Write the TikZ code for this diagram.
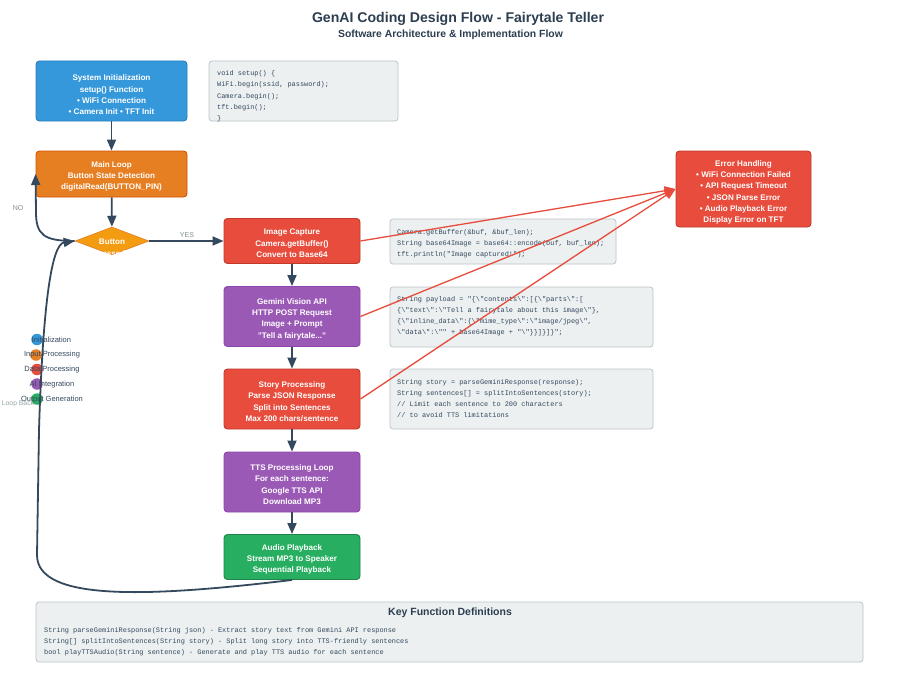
\documentclass[tikz,border=0pt]{standalone}
\usepackage{fontspec}
\setmainfont{Liberation Sans}
\setmonofont{Liberation Mono}
\usetikzlibrary{arrows.meta,shapes.geometric}
\definecolor{cblue}{HTML}{3498DB}
\definecolor{cblueb}{HTML}{2980B9}
\definecolor{corange}{HTML}{E67E22}
\definecolor{coranb}{HTML}{D35400}
\definecolor{cyellow}{HTML}{F39C12}
\definecolor{cred}{HTML}{E74C3C}
\definecolor{credb}{HTML}{C0392B}
\definecolor{cpurple}{HTML}{9B59B6}
\definecolor{cpurpb}{HTML}{8E44AD}
\definecolor{cgreen}{HTML}{27AE60}
\definecolor{cgreenb}{HTML}{1E8449}
\definecolor{ccode}{HTML}{ECF0F1}
\definecolor{ccodeb}{HTML}{BDC3C7}
\definecolor{carrow}{HTML}{34495E}
\definecolor{ctitle}{HTML}{2C3E50}
\definecolor{cgray}{HTML}{7F8C8D}
\definecolor{clgray}{HTML}{95A5A6}
\tikzset{
  procbox/.style={rounded corners=3.5pt, line width=0.9pt, inner sep=0pt},
  proctxt/.style={text=white, align=center, inner sep=0pt,
    font=\fontsize{8.1}{11.3}\selectfont\bfseries},
  codebox/.style={rounded corners=3pt, fill=ccode, draw=ccodeb, line width=0.8pt, inner sep=0pt},
  codetxt/.style={anchor=base west, inner sep=0pt, text=carrow, font=\ttfamily\fontsize{6.9}{11.3}\selectfont},
  flow/.style={draw=carrow, line width=1.8pt, -{Triangle[length=11pt,width=9pt]}},
  errflow/.style={draw=cred, line width=1.3pt, -{Triangle[length=11pt,width=9pt]}},
  smalllbl/.style={inner sep=0pt, text=cgray, font=\fontsize{7}{8}\selectfont},
  legtxt/.style={inner sep=0pt, text=carrow, font=\fontsize{7.5}{9}\selectfont},
  legdot/.style={circle, inner sep=0pt, minimum size=11.5pt},
}
\begin{document}
\begin{tikzpicture}[x=1pt,y=-1pt]
\useasboundingbox (0,0) rectangle (917,674);
\fill[white] (0,0) rectangle (917,674);

% titles
\node[inner sep=0pt, text=ctitle, font=\fontsize{14.1}{16}\selectfont\bfseries] (title) at (458,19) {GenAI Coding Design Flow - Fairytale Teller};
\node[inner sep=0pt, text=ctitle, font=\fontsize{10.4}{12}\selectfont\bfseries] (subtitle) at (450.5,35) {Software Architecture \& Implementation Flow};

% main boxes
\node[procbox, fill=cblue, draw=cblueb, minimum width=151pt, minimum height=60pt] (init) at (111.5,91) {};
\node[proctxt] (initt) at (111.5,95)
  {System Initialization\\setup() Function\\• WiFi Connection\\• Camera Init • TFT Init};
\node[procbox, fill=corange, draw=coranb, minimum width=151pt, minimum height=46pt] (main) at (111.5,174) {};
\node[proctxt] (maint) at (111.5,176.5)
  {Main Loop\\Button State Detection\\digitalRead(BUTTON\_PIN)};
\node[diamond, fill=cyellow, draw=corange, line width=0.6pt, inner sep=0pt, minimum width=74pt, minimum height=28pt] (dia) at (112,241) {};
\node[inner sep=0pt, text=white, font=\fontsize{8.1}{10}\selectfont\bfseries] (diat1) at (112,242) {Button};
\node[inner sep=0pt, text=white, font=\fontsize{8.1}{10}\selectfont\bfseries] (diat2) at (112,253.5) {Pressed?};

\node[procbox, fill=cred, draw=credb, minimum width=136pt, minimum height=45pt] (img) at (292,241) {};
\node[proctxt] (imgt) at (292,243.5)
  {Image Capture\\Camera.getBuffer()\\Convert to Base64};
\node[procbox, fill=cpurple, draw=cpurpb, minimum width=136pt, minimum height=60pt] (gem) at (292,316.5) {};
\node[proctxt] (gemt) at (292,319)
  {Gemini Vision API\\HTTP POST Request\\Image + Prompt\\"Tell a fairytale..."};
\node[procbox, fill=cred, draw=credb, minimum width=136pt, minimum height=60pt] (story) at (292,399) {};
\node[proctxt] (storyt) at (292,401.5)
  {Story Processing\\Parse JSON Response\\Split into Sentences\\Max 200 chars/sentence};
\node[procbox, fill=cpurple, draw=cpurpb, minimum width=136pt, minimum height=60pt] (tts) at (292,482) {};
\node[proctxt] (ttst) at (292,484.5)
  {TTS Processing Loop\\For each sentence:\\Google TTS API\\Download MP3};
\node[procbox, fill=cgreen, draw=cgreenb, minimum width=136pt, minimum height=45pt] (audio) at (292,557) {};
\node[proctxt] (audiot) at (292,559.5)
  {Audio Playback\\Stream MP3 to Speaker\\Sequential Playback};
\node[procbox, fill=cred, draw=credb, minimum width=135pt, minimum height=76pt] (err) at (743.5,189) {};
\node[proctxt] (errt) at (743.5,192.5)
  {Error Handling\\• WiFi Connection Failed\\• API Request Timeout\\• JSON Parse Error\\• Audio Playback Error\\Display Error on TFT};

% code boxes
\node[codebox, minimum width=189pt, minimum height=60pt] (code1) at (303.5,91) {};
\node[codetxt] (c1a) at (217,75.3) {void setup() \{};
\node[codetxt] (c1b) at (217,86.3) {WiFi.begin(ssid, password);};
\node[codetxt] (c1c) at (217,98.3) {Camera.begin();};
\node[codetxt] (c1d) at (217,109.3) {tft.begin();};
\node[codetxt] (c1e) at (217,120.3) {\}};

\node[codebox, minimum width=226pt, minimum height=45pt] (code2) at (503,241.5) {};
\node[codetxt] (c2a) at (397,234.3) {Camera.getBuffer(\&buf, \&buf\_len);};
\node[codetxt] (c2b) at (397,245.3) {String base64Image = base64::encode(buf, buf\_len);};
\node[codetxt] (c2c) at (397,256.3) {tft.println("Image captured!");};

\node[codebox, minimum width=263pt, minimum height=60pt] (code3) at (521.5,317) {};
\node[codetxt] (c3a) at (397,301.3) {String payload = "\{\textbackslash"contents\textbackslash":[\{\textbackslash"parts\textbackslash":[};
\node[codetxt] (c3b) at (397,312.3) {\{\textbackslash"text\textbackslash":\textbackslash"Tell a fairytale about this image\textbackslash"\},};
\node[codetxt] (c3c) at (397,323.3) {\{\textbackslash"inline\_data\textbackslash":\{\textbackslash"mime\_type\textbackslash":\textbackslash"image/jpeg\textbackslash",};
\node[codetxt] (c3d) at (397,334.3) {\textbackslash"data\textbackslash":\textbackslash"" + base64Image + "\textbackslash"\}\}]\}]\}";};

\node[codebox, minimum width=263pt, minimum height=60pt] (code4) at (521.5,399) {};
\node[codetxt] (c4a) at (397,384.3) {String story = parseGeminiResponse(response);};
\node[codetxt] (c4b) at (397,395.3) {String sentences[] = splitIntoSentences(story);};
\node[codetxt] (c4c) at (397,406.3) {// Limit each sentence to 200 characters};
\node[codetxt] (c4d) at (397,417.3) {// to avoid TTS limitations};

% bottom box
\node[codebox, minimum width=827pt, minimum height=60pt] (defs) at (449.5,632) {};
\node[inner sep=0pt, text=ctitle, font=\fontsize{10.5}{12}\selectfont\bfseries] (defst) at (450,613) {Key Function Definitions};
\node[codetxt] (d1) at (44,632.3) {String parseGeminiResponse(String json) - Extract story text from Gemini API response};
\node[codetxt] (d2) at (44,643.3) {String[] splitIntoSentences(String story) - Split long story into TTS-friendly sentences};
\node[codetxt] (d3) at (44,654.3) {bool playTTSAudio(String sentence) - Generate and play TTS audio for each sentence};

% legend
\node[legdot, fill=cblue] (l1) at (37,339.5) {};
\node[legdot, fill=corange] (l2) at (36,355) {};
\node[legdot, fill=cred] (l3) at (37,369.5) {};
\node[legdot, fill=cpurple] (l4) at (37,384) {};
\node[legdot, fill=cgreen] (l5) at (37,399) {};
\node[legtxt] (lt1) at (51.5,340) {Initialization};
\node[legtxt] (lt2) at (52,355) {Input Processing};
\node[legtxt] (lt3) at (52,370) {Data Processing};
\node[legtxt] (lt4) at (52,385) {AI Integration};
\node[legtxt] (lt5) at (52,400) {Output Generation};

% connectors
\draw[flow] (init) -- (main);
\draw[flow] (main) -- (dia);
\draw[flow] (dia.east) -- (img.west);
\draw[flow] (img) -- (gem);
\draw[flow] (gem) -- (story);
\draw[flow] (story) -- (tts);
\draw[flow] (tts) -- (audio);
\draw[flow] (dia.west) .. controls (44,241) and (36,235) .. (36,212) -- (main.west);
\draw[flow] (audio.south) .. controls (150,597) and (37,602) .. (37,555) -- (39,430) .. controls (43,300) and (52,244) .. (dia.west);

\node[smalllbl] (yes) at (187,235) {YES};
\node[smalllbl] (no) at (18,208.5) {NO};
\node[inner sep=0pt, text=clgray, font=\fontsize{6.8}{8}\selectfont] (loopb) at (18,404) {Loop Back};

\draw[errflow] (img.east) -- (err.west);
\draw[errflow] (gem.east) -- (err.west);
\draw[errflow] (story.east) -- (err.west);
\end{tikzpicture}
\end{document}
